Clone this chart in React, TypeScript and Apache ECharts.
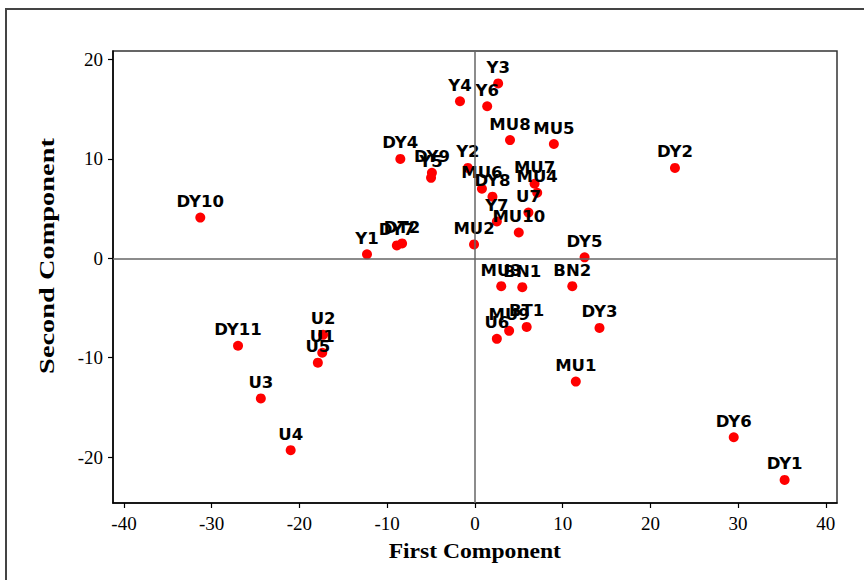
import React, { useEffect, useRef } from "react";
import * as echarts from "echarts";

const names = [
  "Y3", "Y4", "Y6", "MU8", "MU5", "DY4", "DY9", "Y5", "Y2", "MU6",
  "DY8", "MU7", "MU4", "U7", "MU10", "Y7", "MU2", "Y1", "DY7", "DT2",
  "DY10", "DY2", "DY5", "MU3", "BN1", "BN2", "BT1", "MU9", "U6", "DY3",
  "MU1", "DY11", "U2", "U1", "U5", "U3", "U4", "DY6", "DY1",
];
const firstComponent = [
  2.65, -1.7, 1.4, 4.0, 9.0, -8.5, -4.9, -5.0, -0.8, 0.8,
  2.0, 6.8, 7.1, 6.1, 5.0, 2.5, -0.1, -12.3, -8.9, -8.3,
  -31.3, 22.8, 12.5, 3.0, 5.4, 11.1, 5.9, 3.9, 2.5, 14.2,
  11.5, -27.0, -17.3, -17.4, -17.9, -24.4, -21.0, 29.5, 35.3,
];
const secondComponent = [
  17.6, 15.8, 15.3, 11.9, 11.5, 10.0, 8.6, 8.1, 9.1, 7.0,
  6.2, 7.5, 6.6, 4.6, 2.6, 3.7, 1.4, 0.4, 1.3, 1.5,
  4.1, 9.1, 0.1, -2.8, -2.9, -2.8, -6.9, -7.3, -8.1, -7.0,
  -12.4, -8.8, -7.7, -9.5, -10.5, -14.1, -19.3, -18.0, -22.3,
];
const xTicks = [-40, -30, -20, -10, 0, 10, 20, 30, 40];
const yTicks = [-20, -10, 0, 10, 20];
const xTitle = "First Component";
const yTitle = "Second Component";

export default function App() {
  const ref = useRef<HTMLDivElement>(null);
  useEffect(() => {
    if (!ref.current) return;
    const chart = echarts.init(ref.current, null, { renderer: "svg" });
    const data = names.map((n, i) => ({ name: n, value: [firstComponent[i], secondComponent[i]] }));
    const tickLabel = { fontFamily: "Liberation Serif", fontSize: 19, color: "#000" };
    chart.setOption({
      animation: false,
      backgroundColor: "#fff",
      grid: {
        left: 113, top: 51, right: 27, bottom: 77,
        show: true, borderColor: "#333", borderWidth: 1.5, backgroundColor: "transparent",
      },
      xAxis: {
        type: "value", min: -41.25, max: 41.27,
        axisLine: { show: true, onZero: false, lineStyle: { color: "#000", width: 1.5 } },
        axisTick: { show: true, length: 5, customValues: xTicks, lineStyle: { color: "#000", width: 1.2 } },
        axisLabel: { ...tickLabel, margin: 11, customValues: xTicks },
        splitLine: { show: false },
      },
      yAxis: {
        type: "value", min: -24.62, max: 20.86,
        axisLine: { show: true, onZero: false, lineStyle: { color: "#000", width: 1.5 } },
        axisTick: { show: true, length: 5, customValues: yTicks, lineStyle: { color: "#000", width: 1.2 } },
        axisLabel: { ...tickLabel, margin: 10, customValues: yTicks },
        splitLine: { show: false },
      },
      graphic: [
        {
          type: "polyline", silent: true,
          shape: { points: [[6, 600], [6, 9], [900, 9]] },
          style: { stroke: "#444", lineWidth: 2, fill: "none" },
        },
        {
          type: "text", x: 474.8, y: 552, scaleX: 1.18,
          style: {
            text: xTitle, fontFamily: "Liberation Serif", fontWeight: "bold", fontSize: 20,
            fill: "#000", align: "center", verticalAlign: "middle",
          },
        },
        {
          type: "text", x: 47, y: 256, rotation: Math.PI / 2, scaleX: 1.42,
          style: {
            text: yTitle, fontFamily: "Liberation Serif", fontWeight: "bold", fontSize: 20,
            fill: "#000", align: "center", verticalAlign: "middle",
          },
        },
      ],
      series: [
        {
          type: "scatter", data: [], z: 1,
          markLine: {
            silent: true, symbol: ["none", "none"], label: { show: false },
            lineStyle: { color: "#666", type: "solid", width: 1.5 },
            data: [{ xAxis: 0 }, { yAxis: 0 }],
          },
        },
        {
          type: "scatter", data, z: 3, symbolSize: 10,
          itemStyle: { color: "#ff0000", opacity: 1 },
          label: {
            show: true, position: "top", distance: 3, formatter: "{b}",
            fontFamily: "DejaVu Sans", fontWeight: "bold", fontSize: 16.5, lineHeight: 16, color: "#000",
          },
        },
      ],
    });
    return () => chart.dispose();
  }, []);
  return <div ref={ref} style={{ position: "absolute", left: 0, top: 0, width: 864, height: 580 }} />;
}
